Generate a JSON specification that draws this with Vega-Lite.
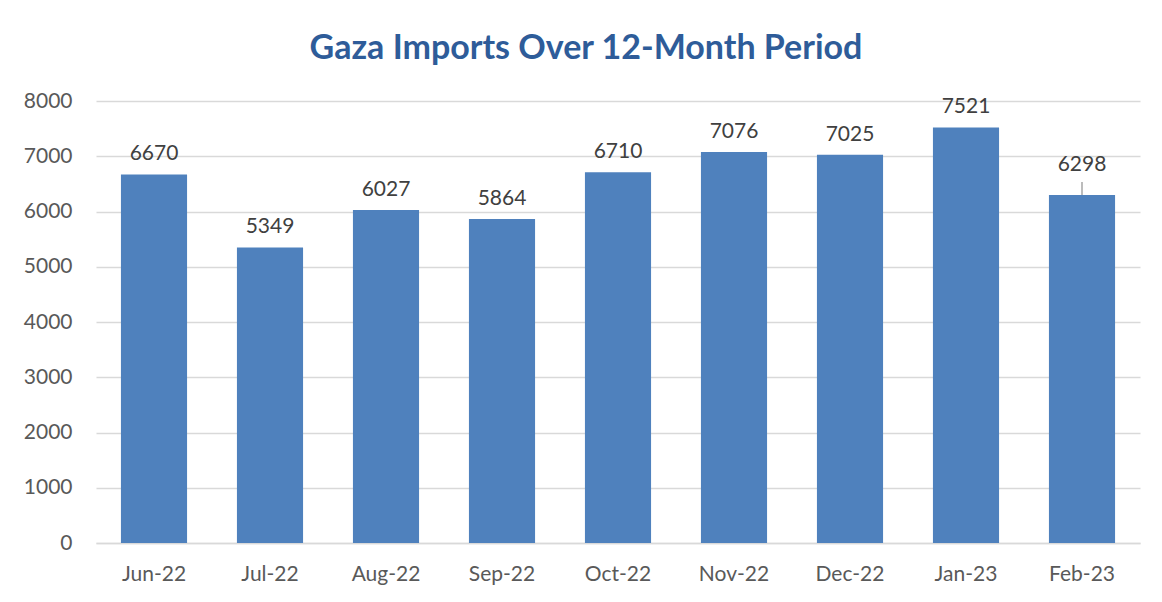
{
  "$schema": "https://vega.github.io/schema/vega-lite/v6.json",
  "width": 1044,
  "height": 442,
  "autosize": "none",
  "padding": {"left": 96, "top": 101, "right": 22, "bottom": 59},
  "background": "white",
  "title": {
    "text": "Gaza Imports Over 12-Month Period",
    "font": "Lato",
    "fontSize": 34,
    "fontWeight": "bold",
    "color": "#2E5C99",
    "anchor": "middle",
    "dx": -32,
    "offset": 24
  },
  "data": {
    "values": [
      {"month": "Jun-22", "imports": 6670},
      {"month": "Jul-22", "imports": 5349},
      {"month": "Aug-22", "imports": 6027},
      {"month": "Sep-22", "imports": 5864},
      {"month": "Oct-22", "imports": 6710},
      {"month": "Nov-22", "imports": 7076},
      {"month": "Dec-22", "imports": 7025},
      {"month": "Jan-23", "imports": 7521},
      {"month": "Feb-23", "imports": 6298}
    ]
  },
  "encoding": {
    "x": {
      "field": "month",
      "type": "nominal",
      "sort": null,
      "title": null,
      "scale": {"paddingInner": 0.43, "paddingOuter": 0.215},
      "axis": {
        "labelAngle": 0,
        "labelFont": "Lato",
        "labelFontSize": 21,
        "labelColor": "#595959",
        "labelPadding": 20,
        "ticks": false,
        "domainColor": "#D9D9D9",
        "domainWidth": 1.5
      }
    },
    "y": {
      "field": "imports",
      "type": "quantitative",
      "title": null,
      "scale": {"domain": [0, 8000], "nice": false},
      "axis": {
        "values": [0, 1000, 2000, 3000, 4000, 5000, 6000, 7000, 8000],
        "format": "d",
        "labelFont": "Lato",
        "labelFontSize": 21,
        "labelColor": "#595959",
        "labelPadding": 24,
        "ticks": false,
        "domain": false,
        "gridColor": "#D9D9D9",
        "gridWidth": 1.5
      }
    }
  },
  "layer": [
    {"mark": {"type": "bar", "color": "#4F81BD"}},
    {
      "transform": [{"filter": "datum.month !== 'Feb-23'"}],
      "mark": {"type": "text", "font": "Lato", "fontSize": 21, "color": "#404040", "baseline": "middle", "dy": -20},
      "encoding": {"text": {"field": "imports", "type": "quantitative", "format": "d"}}
    },
    {
      "transform": [{"filter": "datum.month === 'Feb-23'"}],
      "mark": {"type": "text", "font": "Lato", "fontSize": 21, "color": "#404040", "baseline": "middle", "dy": -30},
      "encoding": {"text": {"field": "imports", "type": "quantitative", "format": "d"}}
    },
    {
      "transform": [{"filter": "datum.month === 'Feb-23'"}],
      "mark": {"type": "rule", "color": "#A6A6A6", "strokeWidth": 1.5, "y2Offset": -13},
      "encoding": {"y2": {"field": "imports"}}
    }
  ],
  "config": {"view": {"stroke": null}}
}
